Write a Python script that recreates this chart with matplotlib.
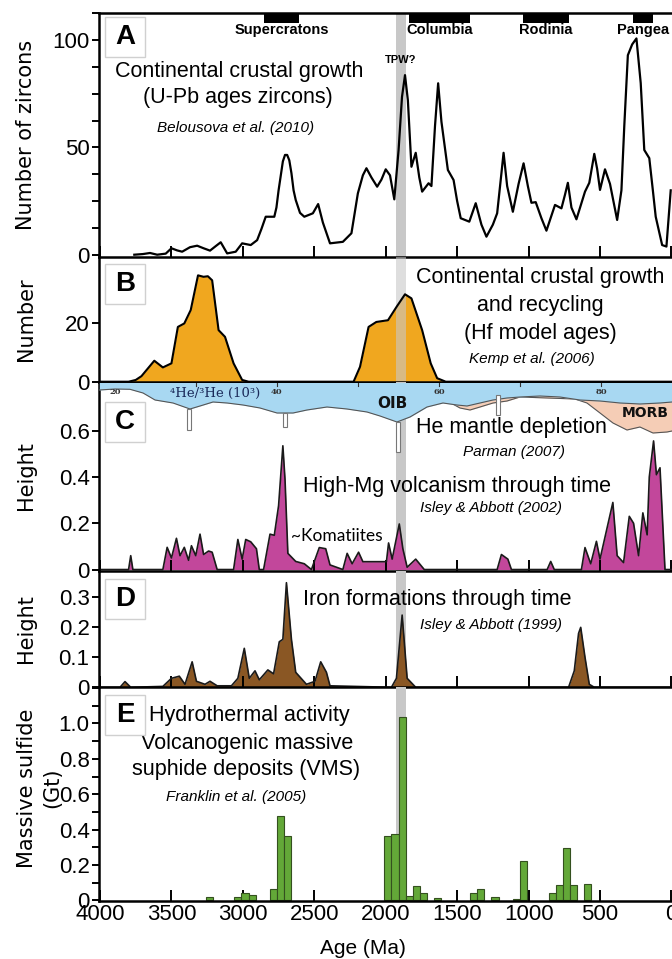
import matplotlib
matplotlib.use('Agg')
import matplotlib.pyplot as plt
from matplotlib.patches import Rectangle
from matplotlib.ticker import MultipleLocator, NullFormatter

# ---------------- data ----------------
zircon_age = [3760, 3700, 3650, 3600, 3540, 3500, 3460, 3425, 3370, 3320, 3275, 3230, 3190, 3155, 3110,
              3050, 3005, 2945, 2900, 2870, 2840, 2780, 2765, 2750, 2720, 2705, 2690, 2675, 2660, 2645,
              2630, 2600, 2570, 2540, 2510, 2473, 2440, 2390, 2300, 2240, 2195, 2160, 2135, 2100,
              2060, 2030, 2000, 1970, 1940, 1910, 1886, 1865, 1845, 1820, 1790, 1765, 1745, 1700, 1680, 1655,
              1633, 1610, 1565, 1525, 1500, 1475, 1415, 1370, 1330, 1295, 1250, 1220, 1190, 1175, 1150, 1110,
              1070, 1035, 1005, 980, 950, 910, 875, 815, 770, 745, 725, 700, 665, 605, 575, 540, 520,
              500, 465, 430, 380, 350, 330, 305, 275, 245, 215, 190, 155, 130, 110, 65, 35, 5]
zircon_count = [0, 0.3, 0.8, 0, 0.5, 3.0, 2.0, 1.4, 3.5, 4.2, 3.0, 1.9, 4.0, 5.8, 0.6,
                1.4, 5.3, 4.5, 6.8, 12, 17.7, 17.7, 22, 30, 43.5, 46.5, 46.5, 44, 38, 30,
                25.5, 19.5, 17.7, 18.5, 19.3, 23.6, 15, 5.3, 6.0, 10.0, 28.6, 37, 40.3, 36,
                31.7, 35, 39.8, 37, 25.8, 48.8, 73.6, 83.7, 72, 41.0, 47.5, 36, 29.4, 33.3, 32.0, 60,
                79.9, 62, 39.5, 34.8, 25, 17.0, 15.4, 24.0, 14, 8.4, 14, 19.3, 38, 47.5, 32, 20.0,
                33, 42.6, 32, 24.2, 24.5, 17, 11.2, 23.2, 21.6, 28, 33.5, 22, 16.5, 29.4, 33.5, 47.0, 40,
                30.2, 39.8, 33, 16.2, 30, 60, 93.0, 98, 100.8, 80, 48.8, 45.0, 30, 17.7, 4.5, 3.8, 30.0]

hf_age = [4005, 3800, 3750, 3710, 3620, 3560, 3500, 3455, 3410, 3365, 3314, 3275, 3245, 3215, 3170, 3125,
          3065, 3005, 2960, 2225, 2180, 2120, 2066, 1984, 1924, 1865, 1820, 1745, 1685, 1640, 1580, -5]
hf_number = [0, 0, 0.6, 1.9, 7.2, 4.9, 6.3, 18.8, 20, 24.6, 36.5, 36, 36.2, 34.8, 17.7, 15.4,
             6.3, 0.6, 0, 0, 5.1, 18.8, 20.5, 21.1, 25.7, 30, 28.6, 17.7, 6.3, 1.2, 0, 0]

mg_age = [4005, 3800, 3785, 3770, 3560, 3530, 3500, 3465, 3440, 3410, 3380, 3360, 3330, 3300, 3275,
          3240, 3215, 3180, 3065, 3035, 3005, 2980, 2945, 2905, 2885, 2855, 2810, 2780, 2750, 2720,
          2705, 2685, 2630, 2570, 2520, 2465, 2420, 2390, 2300, 2270, 2235, 2190, 2160, 1995, 1980,
          1955, 1905, 1880, 1850, 1790, 1730, 1220, 1190, 1145, 1120, 870, 845, 820, 630, 605, 565,
          525, 500, 410, 380, 335, 295, 265, 230, 200, 170, 155, 125, 105, 80, 45, -5]
mg_height = [0, 0, 0.06, 0, 0, 0.096, 0.05, 0.135, 0.06, 0.096, 0.04, 0.103, 0.06, 0.153, 0.065,
             0.08, 0.075, 0, 0, 0.13, 0.045, 0.13, 0.12, 0.09, 0, 0, 0.153, 0.148, 0.276, 0.535,
             0.39, 0.07, 0.035, 0.025, 0, 0.095, 0.09, 0.02, 0, 0.07, 0.025, 0.075, 0.034, 0.034, 0.115,
             0.045, 0.197, 0.09, 0.01, 0.045, 0, 0, 0.065, 0.045, 0, 0, 0.035, 0, 0, 0.095, 0.025,
             0.122, 0.045, 0.29, 0.06, 0.03, 0.23, 0.2, 0.06, 0.245, 0.15, 0.40, 0.556, 0.41, 0.44, 0, 0]

bif_age = [4005, 3860, 3825, 3785, 3560, 3500, 3445, 3405, 3355, 3325, 3265, 3230, 3180, 3080, 3035,
           2990, 2955, 2915, 2885, 2825, 2785, 2745, 2720, 2695, 2660, 2630, 2555, 2495, 2455, 2415,
           2390, 1960, 1925, 1885, 1850, 1790, 720, 680, 650, 635, 605, 575, 540, -5]
bif_height = [0, 0, 0.019, 0, 0.003, 0.03, 0.037, 0.01, 0.085, 0.02, 0.01, 0.02, 0.005, 0.005, 0.03,
              0.13, 0.03, 0.055, 0.025, 0.058, 0.045, 0.152, 0.16, 0.349, 0.16, 0.05, 0.01, 0.02, 0.085, 0.05,
              0.005, 0, 0.03, 0.241, 0.03, 0, 0, 0.055, 0.18, 0.2, 0.1, 0.01, 0, 0]

vms_age = [3235, 3035, 2985, 2935, 2785, 2735, 2685, 1985, 1935, 1885, 1835, 1785, 1735, 1635,
           1385, 1335, 1235, 1085, 1035, 835, 785, 735, 685, 585]
vms_mass = [0.02, 0.02, 0.044, 0.03, 0.065, 0.477, 0.364, 0.363, 0.375, 1.035, 0.027, 0.084, 0.04, 0.015,
            0.04, 0.065, 0.02, 0.01, 0.225, 0.045, 0.09, 0.298, 0.09, 0.095]

supercontinents = ['Supercratons', 'Columbia', 'Rodinia', 'Pangea']
sc_start = [2850, 1840, 1040, 270]
sc_end = [2610, 1410, 720, 130]
tpw_band = (1930, 1860)

# He-isotope inset (4He/3He in 10^3 vs. schematic depth of distribution curve)
he_ratio = [18.06, 20.0, 21.85, 23.46, 24.94, 27.16, 29.26, 30.49, 32.10, 33.83, 35.80, 37.90, 40.00,
            41.98, 43.70, 46.17, 48.64, 51.11, 52.72, 54.81, 56.42, 58.52, 60.49, 62.22, 63.46, 65.06,
            66.67, 68.40, 70.00, 72.47, 74.94, 77.41, 79.88, 82.35, 84.81, 87.28, 88.77]
oib_depth = [7.5, 6.5, 6.8, 10.5, 17.5, 20.5, 26.5, 23.5, 19.5, 20.5, 22.5, 25.5, 30.5,
             30.5, 27.5, 24.5, 26.5, 29.5, 33.5, 39.5, 34.5, 24.5, 20.5, 22.5, 23.5, 20.5,
             17.5, 15.5, 14.5, 13.5, 14.5, 17.5, 18.5, 20.5, 21.5, 20.5, 19.5]
morb_ratio = [61.36, 62.59, 63.83, 65.06, 66.67, 68.40, 70.00, 76.79, 78.27, 79.88, 81.48, 83.21,
              84.81, 86.42, 88.15, 88.77]
morb_depth = [20, 25.5, 27.5, 24.5, 20.5, 18.5, 14.5, 16.5, 20.5, 30.5, 40.5, 47.5, 44.5, 50.5, 49.5, 48.5]
pipe_ratio = [29.13, 40.99, 54.94, 67.28]
pipe_top = [26.5, 30.5, 39.5, 12.5]
pipe_bottom = [47.5, 44.5, 69.5, 32.5]
he_tick_values = [20, 40, 60, 80]
he_tick_labels = ['20', '40', '60', '80']

x_ticks = [4000, 3500, 3000, 2500, 2000, 1500, 1000, 500, 0]
x_tick_labels = ['4000', '3500', '3000', '2500', '2000', '1500', '1000', '500', '0']
a_yticks, a_ylabels = [0, 50, 100], ['0', '50', '100']
b_yticks, b_ylabels = [0, 20], ['0', '20']
c_yticks, c_ylabels = [0, 0.2, 0.4, 0.6], ['0', '0.2', '0.4', '0.6']
d_yticks, d_ylabels = [0, 0.1, 0.2, 0.3], ['0', '0.1', '0.2', '0.3']
e_yticks, e_ylabels = [0, 0.2, 0.4, 0.6, 0.8, 1.0], ['0', '0.2', '0.4', '0.6', '0.8', '1.0']

# ---------------- layout ----------------
W_PX, H_PX = 672, 959
fig = plt.figure(figsize=(W_PX / 100, H_PX / 100), dpi=100)
NARROW = ['Liberation Sans Narrow', 'Liberation Sans', 'DejaVu Sans']
ARIAL = ['Liberation Sans', 'DejaVu Sans']
L = 99.3 / W_PX
XLIM = (4005, -4)
BAND = '#c8c8c8'


def add_ax(top, bottom):
    return fig.add_axes([L, 1 - bottom / H_PX, 1 - L, (bottom - top) / H_PX])


def ftxt(x, y, s, size=16, family=NARROW, ha='center', va='center', **kw):
    fig.text(x / W_PX, 1 - y / H_PX, s, fontsize=size, family=family, ha=ha, va=va, **kw)


def style(ax, yticks, ylabels, ylim, xticks_on=True, xlabels=False):
    ax.set_xlim(*XLIM)
    ax.set_ylim(*ylim)
    for s in ['right', 'top']:
        ax.spines[s].set_visible(False)
    for s in ['left', 'bottom']:
        ax.spines[s].set_linewidth(1.8)
    ax.set_yticks(yticks)
    ax.set_yticklabels(ylabels, family=ARIAL, fontsize=16)
    ax.tick_params(axis='y', direction='out', length=5, width=1.4, pad=2)
    ax.set_xticks(x_ticks)
    if xlabels:
        ax.set_xticklabels(x_tick_labels, family=ARIAL, fontsize=16)
    else:
        ax.set_xticklabels([])
    ax.tick_params(axis='x', direction='in', length=8 if xticks_on else 0, width=1.4, pad=2)
    ax.patch.set_alpha(0)


axA = add_ax(12.7, 256.7)
axB = add_ax(256.7, 381.7)
axC = add_ax(381.7, 570.7)
axD = add_ax(570.7, 687.3)
axE = add_ax(687.3, 901.0)

# Panel A
axA.axvspan(*tpw_band, color=BAND, zorder=0, lw=0)
axA.plot(zircon_age, zircon_count, color='black', lw=1.6, zorder=3, solid_joinstyle='round')
for s0, s1, name in zip(sc_start, sc_end, supercontinents):
    axA.axvspan(s0, s1, ymin=0.958, ymax=1.0, color='black', lw=0)
    axA.text((s0 + s1) / 2, 0.93, name, transform=axA.get_xaxis_transform(), ha='center', va='center',
             fontsize=10.5, fontweight='bold', family=NARROW)
axA.text(sum(tpw_band) / 2, 90.7, 'TPW?', ha='center', va='center', fontsize=8, fontweight='bold', family=ARIAL)
style(axA, a_yticks, a_ylabels, (-0.93, 112.8))
axA.spines['top'].set_visible(True)
axA.spines['top'].set_linewidth(1.8)
axA.yaxis.set_minor_locator(MultipleLocator(12.5))
axA.yaxis.set_minor_formatter(NullFormatter())
axA.tick_params(axis='y', which='minor', direction='out', length=5, width=1.4)

# Panel B
axB.fill_between(hf_age, 0, hf_number, color='#f0a71f', lw=0, zorder=1)
axB.axvspan(*tpw_band, color=BAND, zorder=2, lw=0, alpha=0.6)
axB.plot(hf_age, hf_number, color='black', lw=1.5, zorder=3, solid_joinstyle='round')
style(axB, b_yticks, b_ylabels, (0, 42.9), xticks_on=False)

# Panel C
axC.axvspan(*tpw_band, color=BAND, zorder=0, lw=0)
axC.fill_between(mg_age, 0, mg_height, color='#c2479b', lw=0, zorder=1)
axC.plot(mg_age, mg_height, color='#1a1a1a', lw=1.2, zorder=2)
style(axC, c_yticks, c_ylabels, (-0.005, 0.812))

# He inset at top of panel C
axHe = fig.add_axes([L, 1 - 455 / H_PX, 1 - L, (455 - 382.5) / H_PX])
axHe.set_xlim(18.06, 88.77)
axHe.set_ylim(72.5, 0)
axHe.axis('off')
axHe.fill_between(morb_ratio, 0, morb_depth, color='#f5cdb6', lw=0, zorder=1)
axHe.plot(morb_ratio, morb_depth, color='#555555', lw=0.8, zorder=2)
axHe.fill_between(he_ratio, 0, oib_depth, color='#a8d8f2', lw=0, zorder=3)
axHe.plot(he_ratio, oib_depth, color='#555555', lw=0.8, zorder=4)
axHe.bar(pipe_ratio, [b - t for b, t in zip(pipe_bottom, pipe_top)], bottom=pipe_top, width=0.55,
         color='white', edgecolor='#777777', lw=0.8, zorder=5)
for v in range(30, 90, 10):
    axHe.plot([v, v], [0, 3], color='#333333', lw=0.8, zorder=5)
for v, lab in zip(he_tick_values, he_tick_labels):
    axHe.text(v, 9.5, lab, ha='center', va='center', fontsize=6, fontweight='bold', family='DejaVu Serif',
              color='#333333', zorder=6)
axHe.text(32.3, 11, '⁴He/³He (10³)', ha='center', va='center', fontsize=9.5, family='DejaVu Serif',
          color='#1a2a5a', zorder=6)
axHe.text(54.2, 20.5, 'OIB', ha='center', va='center', fontsize=11, fontweight='bold', family='DejaVu Sans',
          color='#111111', zorder=6)
axHe.text(82.6, 30.5, 'MORB', ha='left', va='center', fontsize=10, fontweight='bold', family='DejaVu Sans',
          color='#111111', zorder=6)

# Panel D
axD.axvspan(*tpw_band, color=BAND, zorder=0, lw=0)
axD.fill_between(bif_age, 0, bif_height, color='#8a5724', lw=0, zorder=1)
axD.plot(bif_age, bif_height, color='#1a1a1a', lw=1.2, zorder=2)
style(axD, d_yticks, d_ylabels, (0, 0.389))

# Panel E
axE.axvspan(*tpw_band, color=BAND, zorder=0, lw=0)
axE.set_axisbelow(True)
axE.bar(vms_age, vms_mass, width=50, color='#63a838', edgecolor='#34501f', lw=0.8, zorder=1)
style(axE, e_yticks, e_ylabels, (-0.003, 1.204), xlabels=True)
axE.yaxis.set_minor_locator(MultipleLocator(0.1))
axE.yaxis.set_minor_formatter(NullFormatter())
axE.tick_params(axis='y', which='minor', direction='out', length=5, width=1.4)

# Panel letter boxes
for letter, ytop in zip('ABCDE', [17, 264, 402, 579, 695]):
    fig.add_artist(Rectangle((105 / W_PX, 1 - (ytop + 40) / H_PX), 40 / W_PX, 40 / H_PX,
                             transform=fig.transFigure, fc='white', ec='#d0d0d0', lw=1.0, zorder=10))
    ftxt(125, ytop + 20, letter, size=20, family=ARIAL, fontweight='bold', zorder=11)

# Annotations
ftxt(239, 71, 'Continental crustal growth', size=15.5)
ftxt(238, 98, '(U-Pb ages zircons)', size=15.5)
ftxt(236, 128, 'Belousova et al. (2010)', size=11, style='italic')

ftxt(540, 278, 'Continental crustal growth', size=15.5)
ftxt(540, 306, 'and recycling', size=15.5)
ftxt(540, 334, '(Hf model ages)', size=15.5)
ftxt(532, 359, 'Kemp et al. (2006)', size=11, style='italic')

ftxt(511, 427, 'He mantle depletion', size=15.5)
ftxt(514, 452, 'Parman (2007)', size=11, style='italic')
ftxt(457, 486, 'High-Mg volcanism through time', size=15.5)
ftxt(491, 508, 'Isley & Abbott (2002)', size=11, style='italic')
ftxt(291, 536, '~Komatiites', size=12.5, family=['Lato', 'DejaVu Sans'], ha='left')

ftxt(437, 600, 'Iron formations through time', size=15.5)
ftxt(491, 625, 'Isley & Abbott (1999)', size=11, style='italic')

ftxt(249, 715, 'Hydrothermal activity', size=15.5)
ftxt(247, 743, 'Volcanogenic massive', size=15.5)
ftxt(246, 770, 'suphide deposits (VMS)', size=15.5)
ftxt(236, 797, 'Franklin et al. (2005)', size=11, style='italic')

# Axis labels
ftxt(26, 134.7, 'Number of zircons', size=15, family='DejaVu Sans', rotation=90)
ftxt(26, 319, 'Number', size=15, family='DejaVu Sans', rotation=90)
ftxt(26, 476, 'Height', size=15, family='DejaVu Sans', rotation=90)
ftxt(26, 629, 'Height', size=15, family='DejaVu Sans', rotation=90)
ftxt(27, 788, 'Massive sulfide', size=15, family='DejaVu Sans', rotation=90)
ftxt(52, 788, '(Gt)', size=15, family='DejaVu Sans', rotation=90)
ftxt(363, 948, 'Age (Ma)', size=15)

fig.savefig('out.png', dpi=100)
